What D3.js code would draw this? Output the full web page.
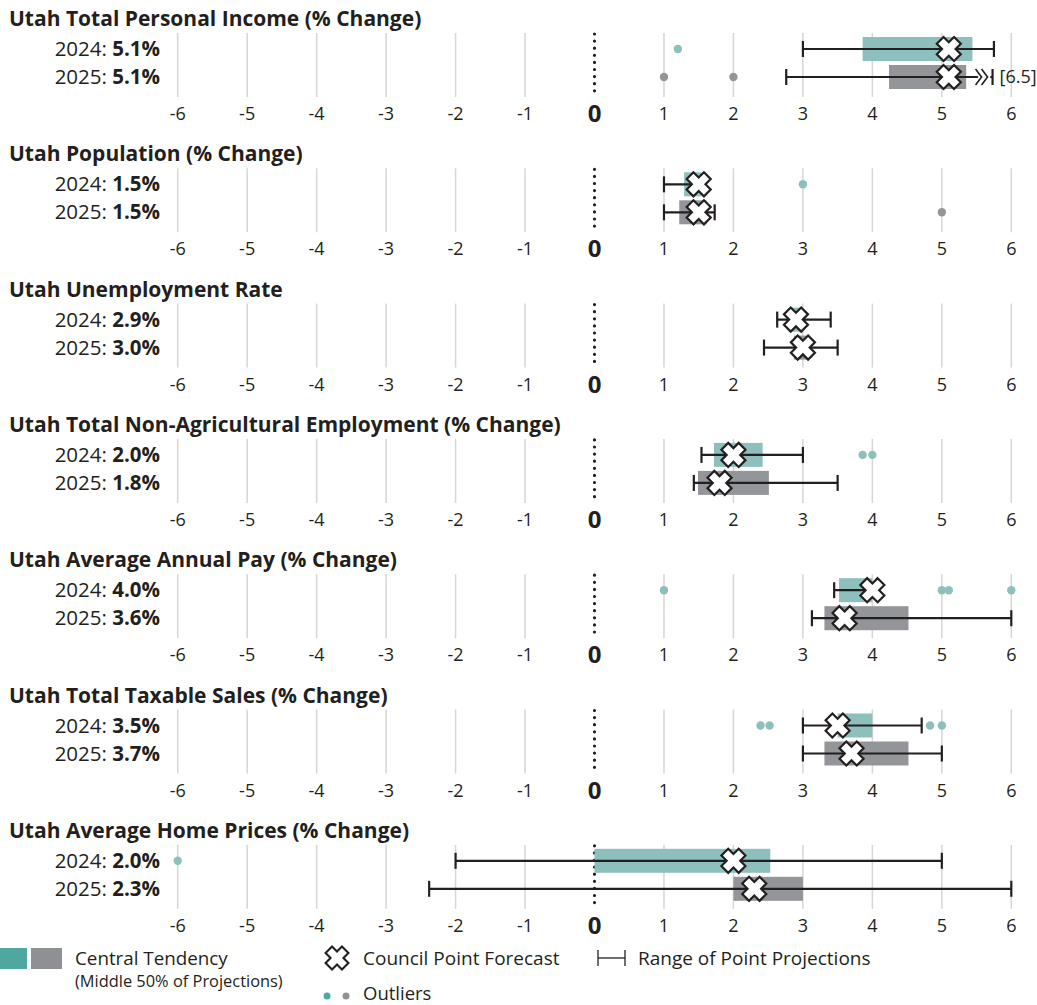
<!DOCTYPE html>
<html>
<head>
<meta charset="utf-8">
<script src="https://cdn.jsdelivr.net/npm/d3@7"></script>
<style>
  body { margin: 0; background: #fff; }
  svg text { font-family: "Open Sans", "Noto Sans", sans-serif; fill: #231f20; }
</style>
</head>
<body>
<div id="chart"></div>
<script>
// Chart data
const panelTitles = [
    'Utah Total Personal Income (% Change)',
    'Utah Population (% Change)',
    'Utah Unemployment Rate',
    'Utah Total Non-Agricultural Employment (% Change)',
    'Utah Average Annual Pay (% Change)',
    'Utah Total Taxable Sales (% Change)',
    'Utah Average Home Prices (% Change)'
];
const years = ['2024', '2025'];
// Council point forecast [2024, 2025]
const forecasts = [[5.1, 5.1], [1.5, 1.5], [2.9, 3.0], [2.0, 1.8], [4.0, 3.6], [3.5, 3.7], [2.0, 2.3]];
// central tendency (middle 50%)
const boxLow  = [[3.86, 4.24], [1.29, 1.22], [2.82, 2.87], [1.72, 1.49], [3.52, 3.31], [3.5, 3.31], [0.0, 2.0]];
const boxHigh = [[5.44, 5.35], [1.54, 1.61], [3.0, 3.09], [2.42, 2.51], [4.0, 4.52], [4.0, 4.52], [2.53, 3.0]];
// range of point projections
const rangeLow  = [[3.0, 2.76], [1.0, 1.0], [2.63, 2.44], [1.54, 1.43], [3.45, 3.13], [3.0, 3.0], [-2.0, -2.38]];
const rangeHigh = [[5.75, 6.5], [1.6, 1.73], [3.4, 3.5], [3.0, 3.5], [4.0, 6.0], [4.71, 5.0], [5.0, 6.0]];
// outliers
const outliers = [
    [[1.2], [1.0, 2.0]],
    [[3.0], [5.0]],
    [[], []],
    [[3.86, 4.0], []],
    [[1.0, 5.0, 5.1, 6.0], []],
    [[2.39, 2.52, 4.83, 5.0], []],
    [[-6.0], []]
];
const tickValues = [-6, -5, -4, -3, -2, -1, 0, 1, 2, 3, 4, 5, 6];
const axisMax = 5.73; // values beyond this are drawn with a break

const colors = {
    box: ['#8dc0bc', '#939598'],
    dot: ['#8dc0bc', '#939598'],
    legend: ['#4ea8a0', '#8f9094'],
    ink: '#231f20',
    grid: '#d6d6d6'
};

const width = 1037, height = 1005;
const panelStep = 135.3;

const svg = d3.select('#chart').append('svg')
    .attr('width', width)
    .attr('height', height);

const x = d3.scaleLinear().domain([-6, 6]).range([177.7, 1011.3]);

// Cross marker (rotated plus)
const a = 4.8, L = 12.2;
const crossPath = `M${-a},${-L}H${a}V${-a}H${L}V${a}H${a}V${L}H${-a}V${a}H${-L}V${-a}H${-a}Z`;

function drawCross(g, cx, cy, scale = 1) {
    g.append('path')
        .attr('d', crossPath)
        .attr('transform', `translate(${cx},${cy}) rotate(45) scale(${scale})`)
        .attr('fill', '#fff')
        .attr('stroke', colors.ink)
        .attr('stroke-width', 2.2)
        .attr('stroke-linejoin', 'miter');
}

panelTitles.forEach((title, i) => {
    const g = svg.append('g').attr('transform', `translate(0,${i * panelStep})`);
    const rowY = d3.scaleBand().domain(years).range([35, 91]);
    const cy = yr => rowY(yr) + rowY.bandwidth() / 2;

    // Title
    g.append('text')
        .attr('x', 9)
        .attr('y', 26)
        .attr('font-size', 21)
        .attr('font-weight', 700)
        .text(title);

    // Gridlines
    g.selectAll('line.grid')
        .data(tickValues.filter(d => d !== 0))
        .enter()
        .append('line')
        .attr('class', 'grid')
        .attr('x1', d => x(d)).attr('x2', d => x(d))
        .attr('y1', 33).attr('y2', 97)
        .attr('stroke', colors.grid)
        .attr('stroke-width', 1.5);

    // Zero dotted line
    g.append('line')
        .attr('x1', x(0)).attr('x2', x(0))
        .attr('y1', 34).attr('y2', 97)
        .attr('stroke', colors.ink)
        .attr('stroke-width', 3.2)
        .attr('stroke-linecap', 'round')
        .attr('stroke-dasharray', '0 7.1');

    // Tick labels
    g.selectAll('text.tick')
        .data(tickValues)
        .enter()
        .append('text')
        .attr('class', 'tick')
        .attr('x', d => x(d))
        .attr('y', d => d === 0 ? 122 : 120)
        .attr('text-anchor', 'middle')
        .attr('font-size', d => d === 0 ? 24 : 18)
        .attr('font-weight', d => d === 0 ? 700 : 400)
        .text(d => d);

    years.forEach((yr, j) => {
        const y0 = cy(yr);

        // Row label
        const lbl = g.append('text')
            .attr('x', 160)
            .attr('y', y0 + 7)
            .attr('text-anchor', 'end')
            .attr('font-size', 20.5);
        lbl.append('tspan').attr('font-weight', 400).text(`${yr}: `);
        lbl.append('tspan').attr('font-weight', 700).text(`${forecasts[i][j].toFixed(1)}%`);

        // Box
        g.append('rect')
            .attr('x', x(boxLow[i][j]))
            .attr('y', y0 - 12)
            .attr('width', x(boxHigh[i][j]) - x(boxLow[i][j]))
            .attr('height', 24)
            .attr('fill', colors.box[j]);

        // Outliers
        g.selectAll(null)
            .data(outliers[i][j])
            .enter()
            .append('circle')
            .attr('cx', d => x(d))
            .attr('cy', y0)
            .attr('r', 4.2)
            .attr('fill', colors.dot[j]);

        // Range whisker
        const lo = rangeLow[i][j];
        const hiRaw = rangeHigh[i][j];
        const broken = hiRaw > 6;
        const hi = broken ? axisMax : hiRaw;
        g.append('line')
            .attr('x1', x(lo)).attr('x2', x(hi))
            .attr('y1', y0).attr('y2', y0)
            .attr('stroke', colors.ink)
            .attr('stroke-width', 2.2);
        [lo, hi].forEach(v => {
            g.append('line')
                .attr('x1', x(v)).attr('x2', x(v))
                .attr('y1', y0 - 8).attr('y2', y0 + 8)
                .attr('stroke', colors.ink)
                .attr('stroke-width', 2.2);
        });

        // Forecast marker
        drawCross(g, x(forecasts[i][j]), y0);

        if (broken) {
            // break marks
            const bx = x(hi) - 17;
            [0, 6].forEach(off => {
                g.append('path')
                    .attr('d', `M${bx + off},${y0 - 8}L${bx + off + 6},${y0}L${bx + off},${y0 + 8}`)
                    .attr('fill', 'none')
                    .attr('stroke', '#fff')
                    .attr('stroke-width', 5);
            });
            [0, 6].forEach(off => {
                g.append('path')
                    .attr('d', `M${bx + off},${y0 - 8}L${bx + off + 6},${y0}L${bx + off},${y0 + 8}`)
                    .attr('fill', 'none')
                    .attr('stroke', colors.ink)
                    .attr('stroke-width', 1.6);
            });
            g.append('text')
                .attr('x', x(hi) + 7)
                .attr('y', y0 + 6)
                .attr('font-size', 18)
                .text(`[${hiRaw}]`);
        }
    });
});

// Legend
const lg = svg.append('g');
lg.append('rect').attr('x', 0).attr('y', 948).attr('width', 27).attr('height', 21).attr('fill', colors.legend[0]);
lg.append('rect').attr('x', 31).attr('y', 948).attr('width', 31).attr('height', 21).attr('fill', colors.legend[1]);
lg.append('text').attr('x', 75).attr('y', 965).attr('font-size', 18.8).text('Central Tendency');
lg.append('text').attr('x', 75).attr('y', 987).attr('font-size', 16.4).text('(Middle 50% of Projections)');

drawCross(lg, 337, 958, 0.95);
lg.append('text').attr('x', 363).attr('y', 965).attr('font-size', 19).text('Council Point Forecast');

lg.append('line').attr('x1', 598).attr('x2', 625).attr('y1', 958).attr('y2', 958).attr('stroke', colors.ink).attr('stroke-width', 1.3);
[598, 625].forEach(px => {
    lg.append('line').attr('x1', px).attr('x2', px).attr('y1', 950).attr('y2', 966).attr('stroke', colors.ink).attr('stroke-width', 1.3);
});
lg.append('text').attr('x', 638).attr('y', 965).attr('font-size', 19).text('Range of Point Projections');

lg.append('circle').attr('cx', 327).attr('cy', 996).attr('r', 3.5).attr('fill', colors.legend[0]);
lg.append('circle').attr('cx', 346).attr('cy', 996).attr('r', 3.5).attr('fill', colors.legend[1]);
lg.append('text').attr('x', 363).attr('y', 1000).attr('font-size', 18.5).text('Outliers');
</script>
</body>
</html>
